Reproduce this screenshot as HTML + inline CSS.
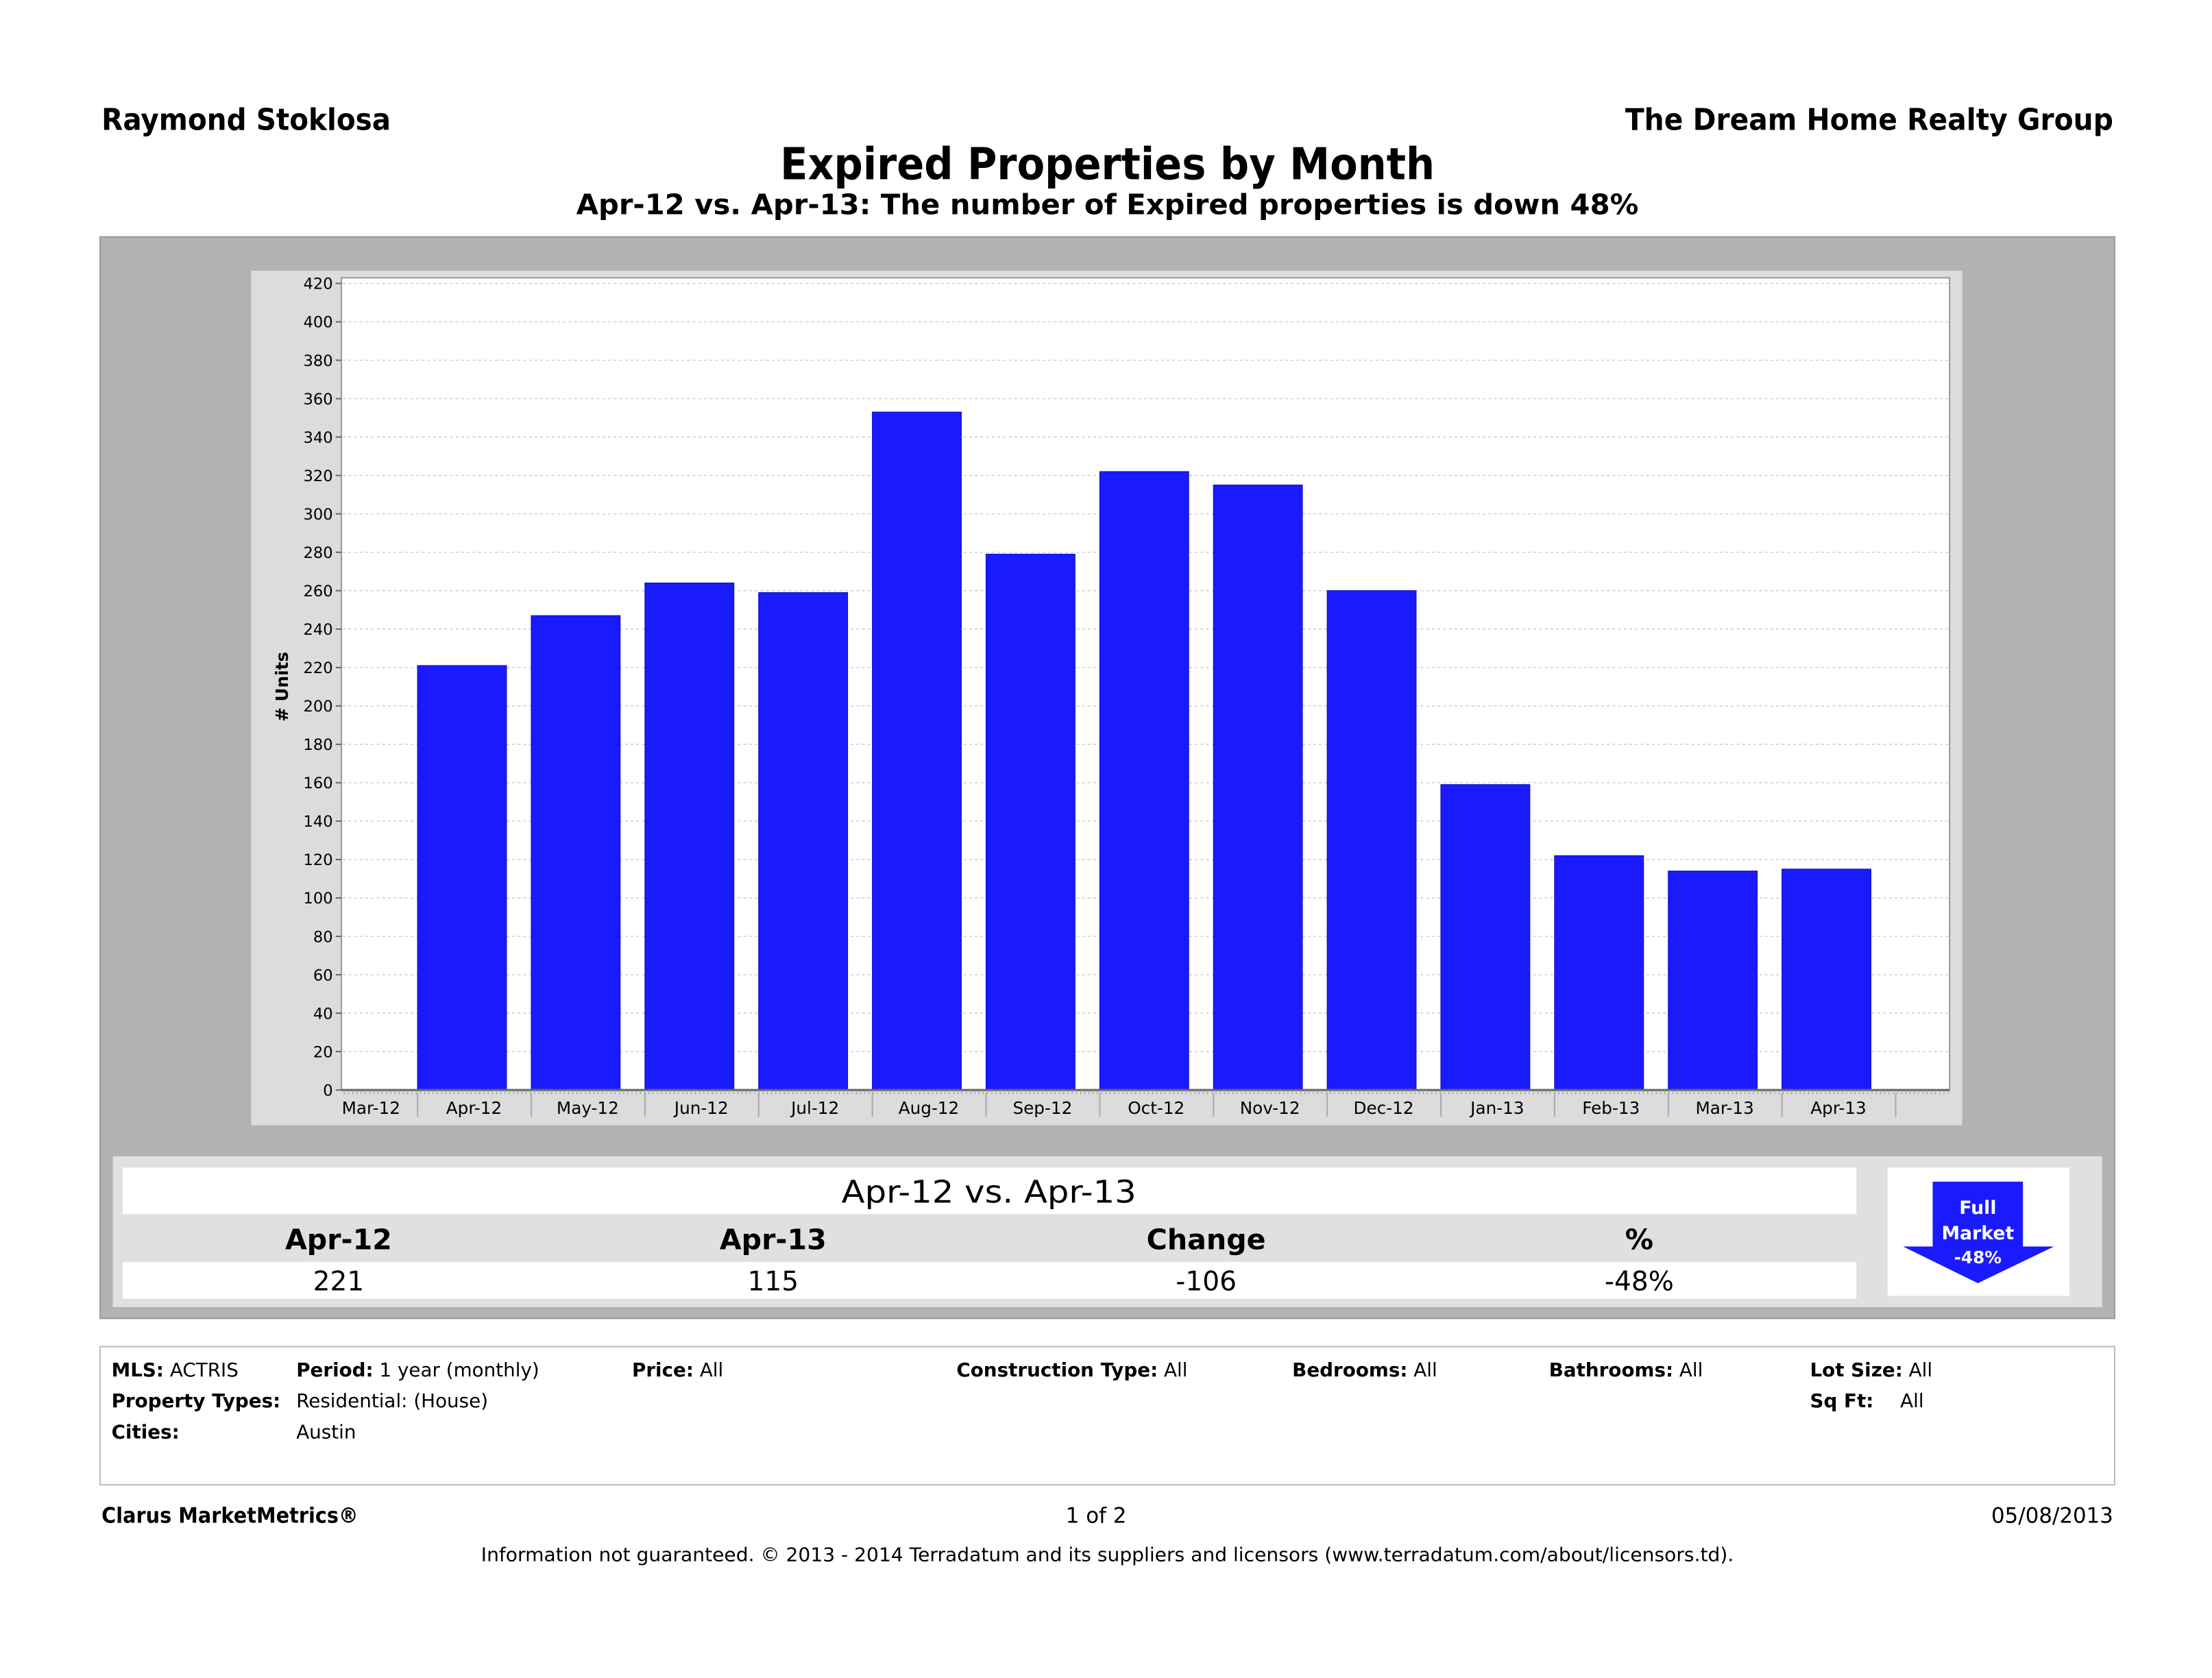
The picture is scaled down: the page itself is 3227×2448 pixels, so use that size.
<!DOCTYPE html>
<html><head><meta charset="utf-8"><style>
html,body{margin:0;padding:0;background:#fff;}
svg{display:block;font-family:"DejaVu Sans","Liberation Sans",sans-serif;}
</style></head><body>
<svg id="s" width="3227" height="2448" viewBox="0 0 1568 1190" preserveAspectRatio="none" xmlns="http://www.w3.org/2000/svg">
<text x="72" y="92" font-size="21" font-weight="bold" fill="#000" textLength="205" lengthAdjust="spacingAndGlyphs">Raymond Stoklosa</text>
<text x="1498" y="92" font-size="21" font-weight="bold" text-anchor="end" textLength="346" lengthAdjust="spacingAndGlyphs">The Dream Home Realty Group</text>
<text x="785" y="127" font-size="31" font-weight="bold" text-anchor="middle" textLength="464" lengthAdjust="spacingAndGlyphs">Expired Properties by Month</text>
<text x="785" y="152" font-size="20" font-weight="bold" text-anchor="middle" textLength="753" lengthAdjust="spacingAndGlyphs">Apr-12 vs. Apr-13: The number of Expired properties is down 48%</text>
<rect x="71" y="168" width="1428" height="767" fill="#b3b3b3" stroke="#999"/>
<rect x="178" y="192" width="1213" height="606" fill="#dcdcdc"/>
<rect x="242" y="197" width="1140" height="576" fill="#fff" stroke="#999"/>
<g id="grid"></g>
<g id="bars"></g>
<g id="yax"></g>
<g id="xax"></g>
<text transform="translate(204,487) rotate(-90)" font-size="12" font-weight="bold" text-anchor="middle"># Units</text>

<rect x="80" y="820" width="1410" height="107" fill="#e0e0e0"/>
<rect x="87" y="828" width="1229" height="33" fill="#fff"/>
<text x="701" y="853" font-size="22" text-anchor="middle" textLength="209" lengthAdjust="spacingAndGlyphs">Apr-12 vs. Apr-13</text>
<rect x="87" y="895" width="1229" height="26" fill="#fff"/>
<g font-size="20" font-weight="bold" text-anchor="middle">
<text x="240" y="886">Apr-12</text>
<text x="548" y="886">Apr-13</text>
<text x="855" y="886">Change</text>
<text x="1162" y="886">%</text>
</g>
<g font-size="19" text-anchor="middle">
<text x="240" y="915">221</text>
<text x="548" y="915">115</text>
<text x="855" y="915">-106</text>
<text x="1162" y="915">-48%</text>
</g>
<rect x="1338" y="828" width="129" height="91" fill="#fff"/>
<g>
<rect x="1370" y="838" width="64" height="46" fill="#1a1aff"/>
<polygon points="1349,884 1456,884 1402,910" fill="#1a1aff"/>
<text x="1402" y="861" font-size="13" font-weight="bold" fill="#fff" text-anchor="middle">Full</text>
<text x="1402" y="879" font-size="13" font-weight="bold" fill="#fff" text-anchor="middle">Market</text>
<text x="1402" y="896" font-size="12" font-weight="bold" fill="#fff" text-anchor="middle">-48%</text>
</g>

<rect x="71" y="955" width="1428" height="98" fill="#fff" stroke="#bbb"/>
<g font-size="13.5" fill="#000">
<text x="79" y="976"><tspan font-weight="bold">MLS:</tspan> ACTRIS</text>
<text x="210" y="976"><tspan font-weight="bold">Period:</tspan> 1 year (monthly)</text>
<text x="448" y="976"><tspan font-weight="bold">Price:</tspan> All</text>
<text x="678" y="976"><tspan font-weight="bold">Construction Type:</tspan> All</text>
<text x="916" y="976"><tspan font-weight="bold">Bedrooms:</tspan> All</text>
<text x="1098" y="976"><tspan font-weight="bold">Bathrooms:</tspan> All</text>
<text x="1283" y="976"><tspan font-weight="bold">Lot Size:</tspan> All</text>
<text x="79" y="998" font-weight="bold">Property Types:</text>
<text x="210" y="998">Residential: (House)</text>
<text x="1283" y="998" font-weight="bold">Sq Ft:</text>
<text x="1347" y="998">All</text>
<text x="79" y="1020" font-weight="bold">Cities:</text>
<text x="210" y="1020">Austin</text>
</g>
<text x="72" y="1080" font-size="15" font-weight="bold" textLength="182" lengthAdjust="spacingAndGlyphs">Clarus MarketMetrics®</text>
<text x="777" y="1080" font-size="15" text-anchor="middle">1 of 2</text>
<text x="1498" y="1080" font-size="15" text-anchor="end">05/08/2013</text>
<text x="785" y="1107" font-size="13.5" text-anchor="middle" textLength="888" lengthAdjust="spacingAndGlyphs">Information not guaranteed.  © 2013 - 2014 Terradatum and its suppliers and licensors (www.terradatum.com/about/licensors.td).</text>
</svg>
<script>
const categories = ["Mar-12","Apr-12","May-12","Jun-12","Jul-12","Aug-12","Sep-12","Oct-12","Nov-12","Dec-12","Jan-13","Feb-13","Mar-13","Apr-13"];
const expiredValues = [null,221,247,264,259,353,279,322,315,260,159,122,114,115];
const yTicks = [0,20,40,60,80,100,120,140,160,180,200,220,240,260,280,300,320,340,360,380,400,420];
const NS="http://www.w3.org/2000/svg";
const y0=773, y1=201, yMax=420;
function yScale(v){return y0-(v/yMax)*(y0-y1);}
const firstW=54, plotL=242, step=80.6;
function catLeft(i){return i===0?plotL:plotL+firstW+(i-1)*step;}
function catRight(i){return i===0?plotL+firstW:catLeft(i)+step;}
function mk(tag,attrs,parent){const e=document.createElementNS(NS,tag);for(const k in attrs)e.setAttribute(k,attrs[k]);parent.appendChild(e);return e;}
const grid=document.getElementById('grid'),yax=document.getElementById('yax'),xax=document.getElementById('xax'),bars=document.getElementById('bars');
yTicks.forEach(t=>{
  const y=yScale(t);
  if(t>0){const l=mk('line',{x1:243,x2:1381,y1:y,y2:y,stroke:'#ccc','stroke-dasharray':'2,2','stroke-width':0.7},grid);
  
  }
  mk('line',{x1:238,x2:242,y1:y,y2:y,stroke:'#666'},yax);
  const tx=mk('text',{x:236,y:y+4,'font-size':11,'text-anchor':'end'},yax);
  tx.textContent=t;
  
  
});
mk('line',{x1:242,x2:1382,y1:y0,y2:y0,stroke:'#666','stroke-width':1.5},xax);
categories.forEach((c,i)=>{
  const l=catLeft(i),r=catRight(i);
  const v=expiredValues[i];
  if(v){const b=mk('rect',{x:l,y:yScale(v),width:63,height:y0-yScale(v),fill:'#1a1aff',stroke:'#1010c0','stroke-width':0.6},bars);
  
  }
  mk('line',{x1:r,x2:r,y1:775,y2:792,stroke:'#aaa'},xax);
  const tx=mk('text',{x:i===0?(l+r)/2-6:l+40,y:790,'font-size':12,'text-anchor':'middle'},xax);
  tx.textContent=c;
  
  
});
for(let x=244;x<1382;x+=3){mk('line',{x1:x,x2:x,y1:773,y2:776,stroke:'#999','stroke-width':0.5},xax);}
</script>
</body></html>
